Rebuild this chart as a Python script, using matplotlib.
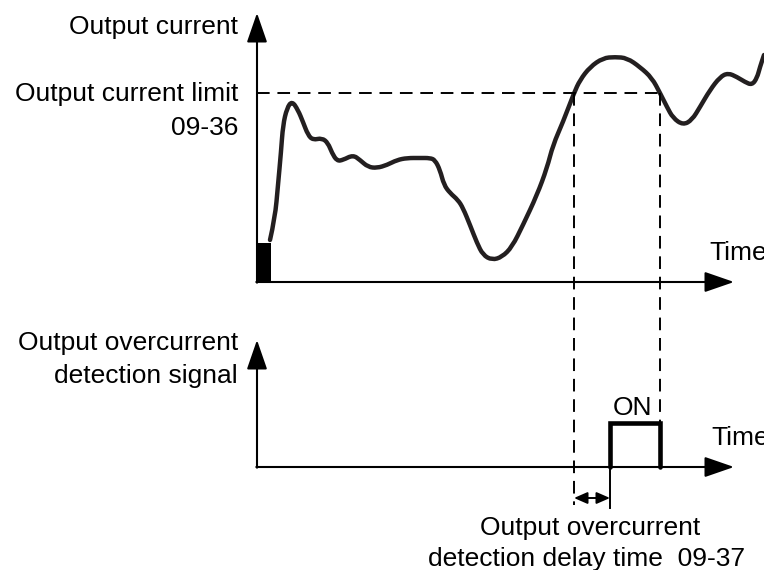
import matplotlib
matplotlib.use("Agg")
import matplotlib.pyplot as plt
from matplotlib.patches import Rectangle, PathPatch
from matplotlib.path import Path

plt.rcParams["font.family"] = ["Liberation Sans", "DejaVu Sans"]

# --- data (time in drawing units, current as height above the time axis) ---
t_trace = [270, 275, 278, 281, 283, 287, 292, 298, 303, 308, 313, 322, 328,
           332, 337, 343, 353, 360, 368, 377, 387, 397, 407, 420, 430, 435,
           440, 444, 450, 458, 463, 470, 477, 483, 492, 502, 512, 523, 537,
           547, 553, 563, 574, 580, 590, 603, 615, 627, 640, 652, 660, 667,
           673, 683, 692, 700, 710, 720, 728, 737, 745, 752, 757, 760, 764]
i_trace = [42, 64, 97, 130, 157, 174, 181, 172, 160, 147, 142, 144, 139,
           129, 121, 122, 127, 122, 115, 114, 117, 122, 124, 124, 124, 122,
           112, 97, 89, 82, 74, 57, 39, 27, 22, 25, 35, 57, 87,
           114, 137, 160, 189, 202, 215, 224, 225, 224, 215, 204, 189, 175,
           164, 157, 162, 175, 192, 205, 209, 205, 200, 197, 204, 215, 227]

current_limit = 189          # 09-36
start_block = (256, 271, 39)  # t0, t1, height
t_limit_hit = 574            # current crosses the limit
t_signal_on = 610            # after detection delay 09-37
t_signal_off = 660           # current drops below limit
signal_high = 44

# --- layout ---
X0 = 257
TOP_BASE = 282
BOT_BASE = 467
X_END = 734

ink = "#231f20"
fig = plt.figure(figsize=(7.64, 5.70), dpi=100)
ax = fig.add_axes([0, 0, 1, 1])
ax.set_xlim(0, 764)
ax.set_ylim(570, 0)
ax.axis("off")

axis_arrow = dict(arrowstyle="-|>,head_length=1.3,head_width=0.45",
                  mutation_scale=14, lw=1.5, color="black",
                  shrinkA=0, shrinkB=0)

# axes of both panels
for base, top in [(TOP_BASE, 13), (BOT_BASE, 340)]:
    ax.annotate("", xy=(X0, top), xytext=(X0, base + 0.7), arrowprops=axis_arrow)
    ax.annotate("", xy=(X_END, base), xytext=(X0 - 0.7, base), arrowprops=axis_arrow)

# output current trace, drawn as a smooth quadratic path through the samples
t0, t1, h0 = start_block
ax.add_patch(Rectangle((t0, TOP_BASE), t1 - t0, -h0, color="black", lw=0))

pts = [(t, TOP_BASE - v) for t, v in zip(t_trace, i_trace)]
verts = [pts[0]]
codes = [Path.MOVETO]
for k in range(1, len(pts) - 1):
    mid = ((pts[k][0] + pts[k + 1][0]) / 2, (pts[k][1] + pts[k + 1][1]) / 2)
    verts += [pts[k], mid]
    codes += [Path.CURVE3, Path.CURVE3]
verts.append(pts[-1])
codes.append(Path.LINETO)
ax.add_patch(PathPatch(Path(verts, codes), fill=False, edgecolor=ink, lw=3.2,
                       joinstyle="round", capstyle="round"))

# limit and timing guides
y_lim = TOP_BASE - current_limit
dash = dict(color="black", lw=1.4, dashes=(6.5, 4))
ax.plot([X0, t_signal_off], [y_lim, y_lim], **dash)
ax.plot([t_limit_hit, t_limit_hit], [y_lim, 505], **dash)
ax.plot([t_signal_off, t_signal_off], [y_lim, BOT_BASE - signal_high], **dash)

# detection signal pulse
ax.plot([t_signal_on, t_signal_on, t_signal_off, t_signal_off],
        [BOT_BASE, BOT_BASE - signal_high, BOT_BASE - signal_high, BOT_BASE],
        color="black", lw=3.3, solid_joinstyle="miter", solid_capstyle="round")

# delay marker
ax.plot([t_signal_on, t_signal_on], [BOT_BASE, 508], color="black", lw=1.4)
ax.annotate("", xy=(t_signal_on, 498), xytext=(t_limit_hit, 498),
            arrowprops=dict(arrowstyle="<|-|>,head_length=0.8,head_width=0.35",
                            mutation_scale=10, lw=1.4, color="black",
                            shrinkA=0, shrinkB=0))

# labels
fs = 19
ax.text(238, 34, "Output current", fontsize=fs, ha="right", va="baseline")
ax.text(238, 101, "Output current limit", fontsize=fs, ha="right", va="baseline")
ax.text(238, 135, "09-36", fontsize=fs, ha="right", va="baseline")
ax.text(238, 350, "Output overcurrent", fontsize=fs, ha="right", va="baseline")
ax.text(238, 383, "detection signal", fontsize=fs, ha="right", va="baseline")
ax.text(709, 260, "Time", fontsize=fs, ha="left", va="baseline")
ax.text(711, 445, "Time", fontsize=fs, ha="left", va="baseline")
ax.text(632, 415, "ON", fontsize=fs, ha="center", va="baseline")
ax.text(590, 535, "Output overcurrent", fontsize=fs, ha="center", va="baseline")
ax.text(587, 566, "detection delay time  09-37", fontsize=fs, ha="center",
        va="baseline")

fig.savefig("out.png", dpi=100)
